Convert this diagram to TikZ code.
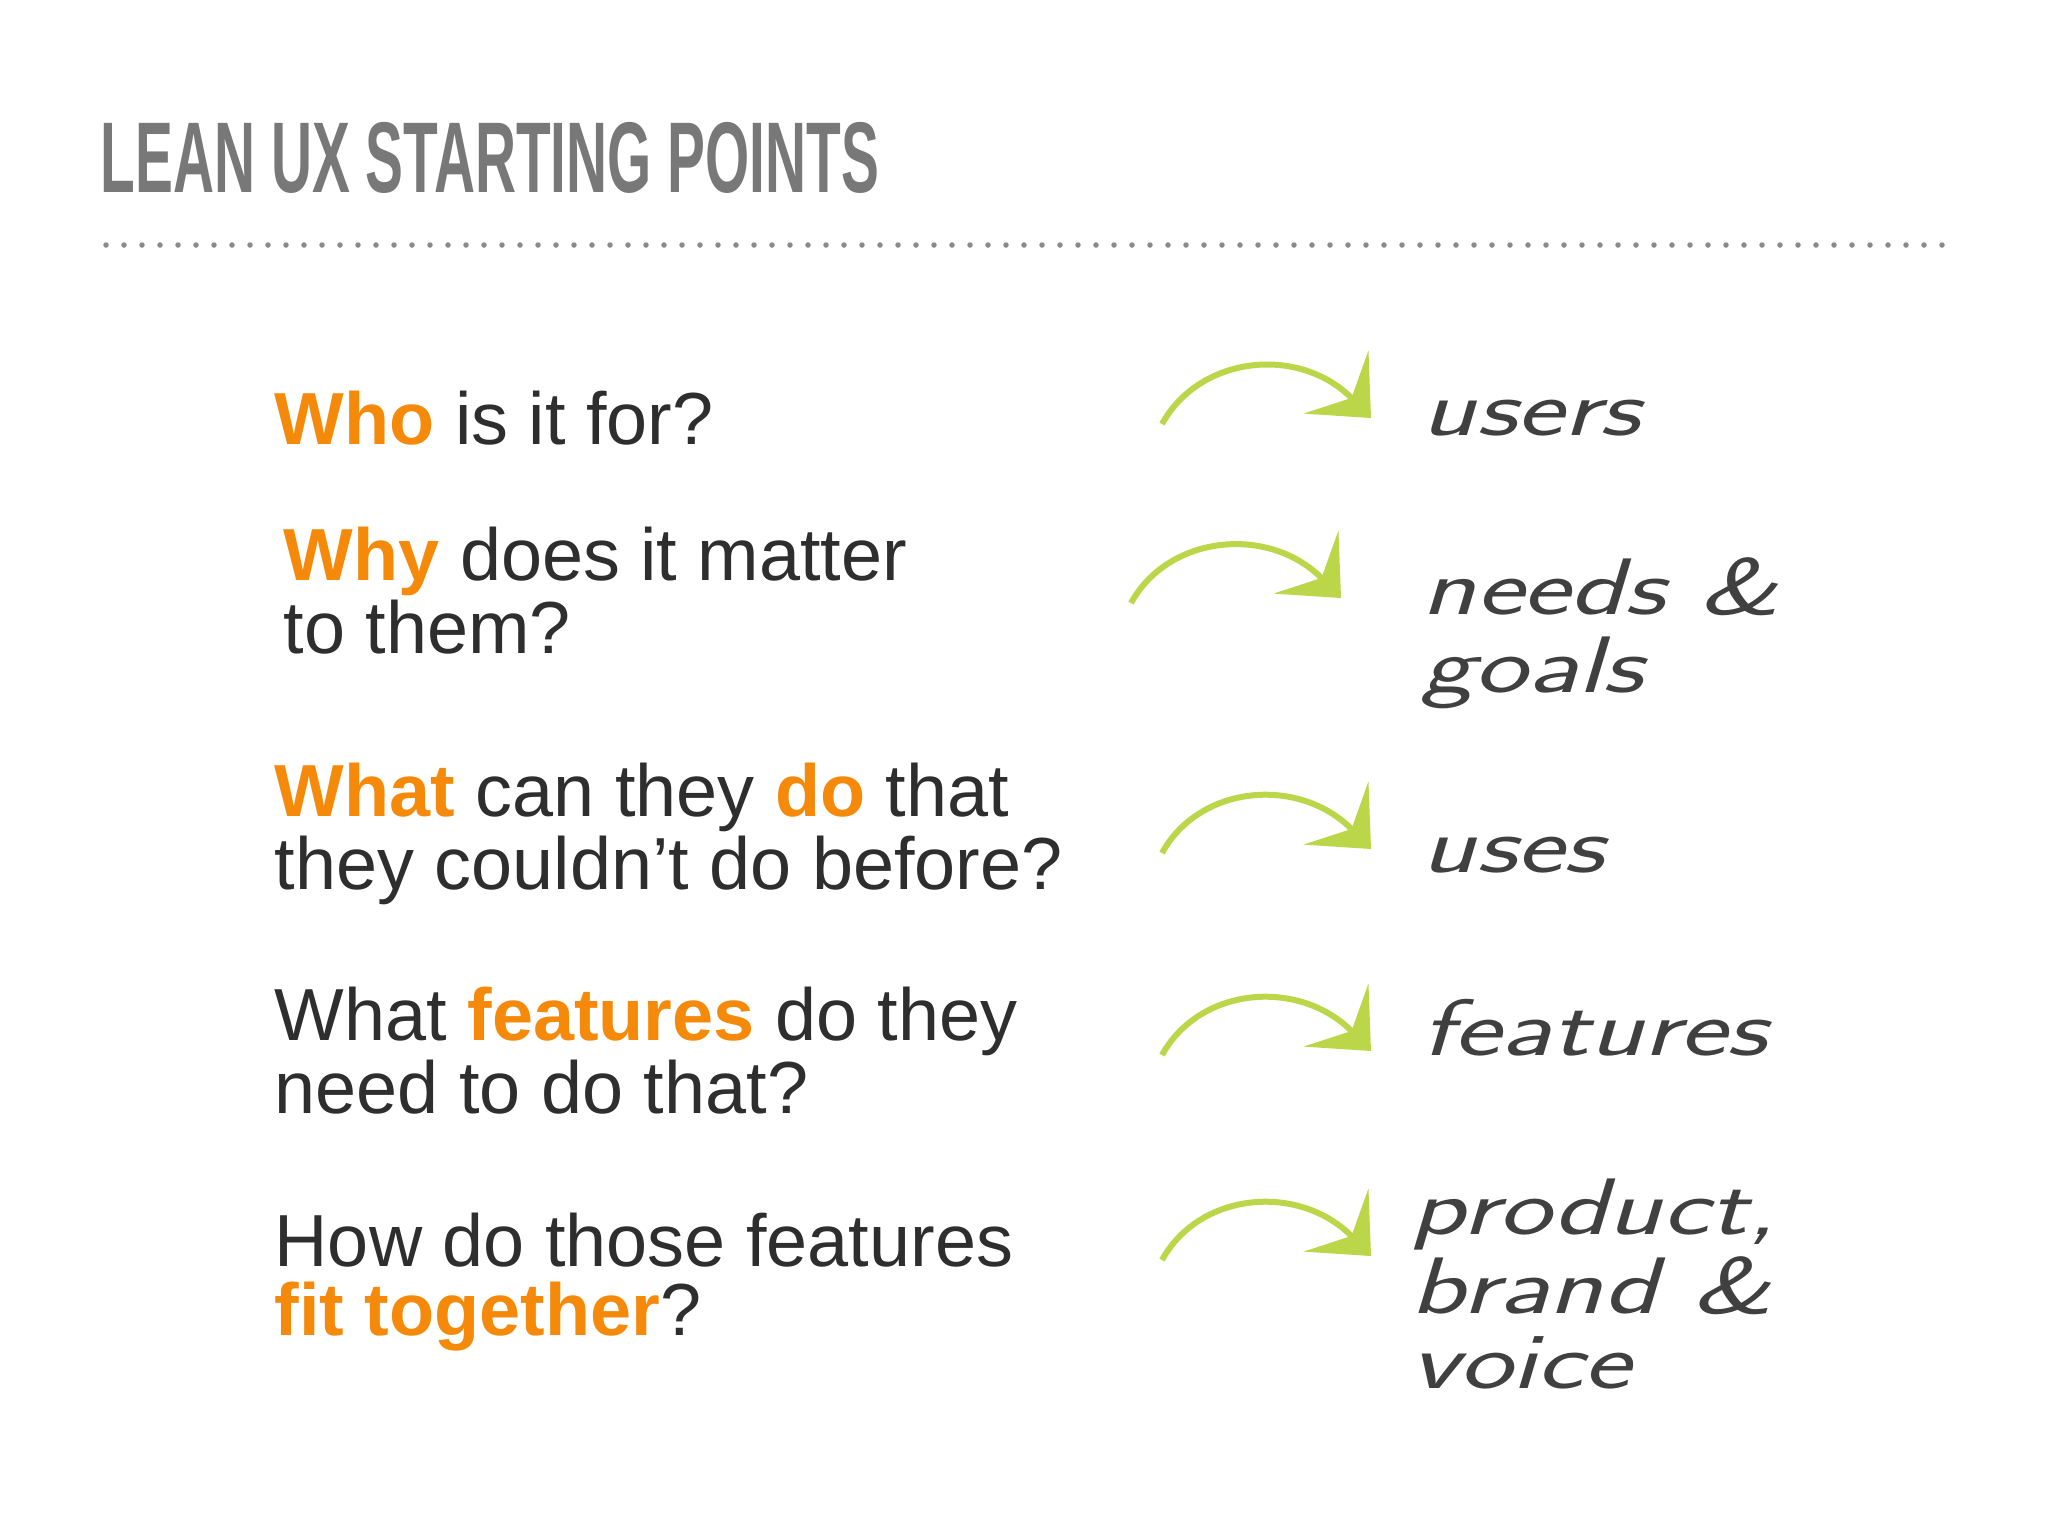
\documentclass[tikz,border=0pt]{standalone}
\usepackage{fontspec}
\setmainfont{Liberation Sans}
\usepackage{graphicx}
\usetikzlibrary{arrows.meta}

\definecolor{titlegray}{HTML}{787878}
\definecolor{dotgray}{HTML}{8A8A8A}
\definecolor{bodytext}{HTML}{2E2E2E}
\definecolor{leanorange}{HTML}{F5890A}
\definecolor{arrowgreen}{HTML}{BCD64A}
\definecolor{handtext}{HTML}{404040}

% orange keywords in the questions
\newcommand{\orng}[1]{\textcolor{leanorange}{\textbf{#1}}}
% wide, slanted "handwritten" answers
\newcommand{\handlines}[1]{\scalebox{1.4}[1]{\begin{tabular}[t]{@{}l@{}}#1\end{tabular}}}

\tikzset{
  title/.style={anchor=base west, inner sep=0pt, text=titlegray,
    font=\fontsize{28.6}{30}\selectfont\bfseries},
  question/.style={anchor=base west, inner sep=0pt, align=left, text=bodytext,
    font=\fontsize{21}{19.4}\selectfont},
  answer/.style={anchor=base west, inner sep=0pt, text=handtext,
    font=\fontsize{22.8}{21.3}\selectfont\sffamily\itshape},
  greenarrow/.style={draw=arrowgreen, line width=0.6mm,
    -{Stealth[length=5mm, width=9mm, inset=2.2mm, fill=arrowgreen]}},
}

\begin{document}
\begin{tikzpicture}[x=0.1mm, y=-0.1mm]
\useasboundingbox (0,0) rectangle (2048,1536);
\fill[white] (0,0) rectangle (2048,1536);

% heading and dotted rule
\node[title] (head) at (100,192) {\scalebox{0.565}[1]{LEAN UX STARTING POINTS}};
\coordinate (ruleL) at (106,245);
\coordinate (ruleR) at (1946,245);
\draw[dotgray, line width=0.55mm, line cap=round, dash pattern=on 0mm off 1.8mm] (ruleL) -- (ruleR);

% questions (placed at the baseline of their last line)
\node[question] (who) at (274,444) {\orng{Who} is it for?};
\node[question] (why) at (283,653) {\orng{Why} does it matter\\to them?};
\node[question] (what) at (274,889) {\orng{What} can they \orng{do} that\\they couldn’t do before?};
\node[question] (feat) at (274,1113) {What \orng{features} do they\\need to do that?};
\node[question] (how) at (274,1335) {How do those features\\\orng{fit together}?};

% answers
\node[answer] (users) at (1421,435) {\handlines{users}};
\node[answer] (needs) at (1421,614) {\handlines{needs \&\\goals}};
\node[answer] (uses) at (1421,872) {\handlines{uses}};
\node[answer] (features) at (1421,1055) {\handlines{features}};
\node[answer] (product) at (1410,1234) {\handlines{product,\\brand \&\\voice}};

% arrows
\coordinate (s1) at (1162,424);  \coordinate (e1) at (1371,418);
\coordinate (s2) at (1131,603);  \coordinate (e2) at (1341,598);
\coordinate (s3) at (1162,853);  \coordinate (e3) at (1371,849);
\coordinate (s4) at (1162,1055); \coordinate (e4) at (1371,1051);
\coordinate (s5) at (1162,1260); \coordinate (e5) at (1371,1256);
\foreach \i in {1,...,5}
  \draw[greenarrow] (s\i) .. controls +(38,-69) and +(-71,-73) .. (e\i);
\end{tikzpicture}
\end{document}
